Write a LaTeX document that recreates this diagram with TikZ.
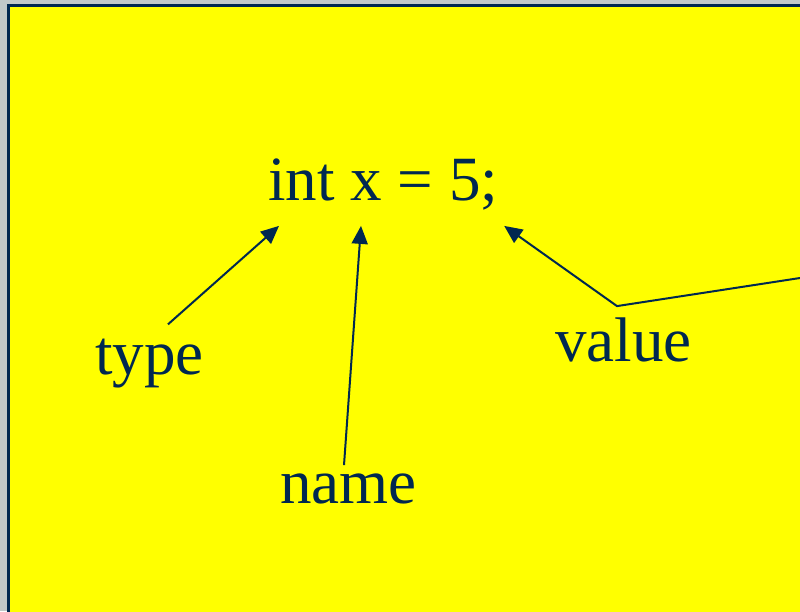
\documentclass[tikz,border=0pt]{standalone}
\usepackage{fontspec}
\setmainfont{Liberation Serif}
\usetikzlibrary{arrows.meta,positioning,calc}
\definecolor{navy}{RGB}{0,40,80}
\definecolor{slide}{RGB}{255,255,0}
\definecolor{frame}{RGB}{193,201,201}
\begin{document}
\begin{tikzpicture}[x=1pt,y=-1pt,>={Triangle[length=18pt,width=16pt]}]
\tikzstyle{lbl}=[inner sep=0pt,anchor=base west,text=navy,font=\fontsize{63}{70}\selectfont]
\tikzstyle{arr}=[->,draw=navy,line width=2pt]
\useasboundingbox (0,0) rectangle (800,611);
\fill[frame] (0,0) rectangle (800,611);
\begin{scope}
\clip (0,0) rectangle (800,611);
\draw[navy,line width=3pt,fill=slide] (8.5,5.5) rectangle (830,640);
\end{scope}
% declaration and its parts
\node[lbl] (code) at (268,200) {int x = 5;};
\node[lbl] (type) at (95,374) {type};
\node[lbl] (name) at (280,503) {name};
\node[lbl] (value) at (555,361) {value};
\coordinate (edge) at (800,278);
\draw[arr] ($(type.north west)+(73,-14)$) -- ($(code.south west)+(11,16)$);
\draw[arr] ($(name.north west)+(64,-8)$) -- ($(code.south west)+(93,16)$);
\draw[arr] (edge) -- ($(value.north west)+(62,-11)$) -- ($(code.south east)+(6,16)$);
\end{tikzpicture}
\end{document}
